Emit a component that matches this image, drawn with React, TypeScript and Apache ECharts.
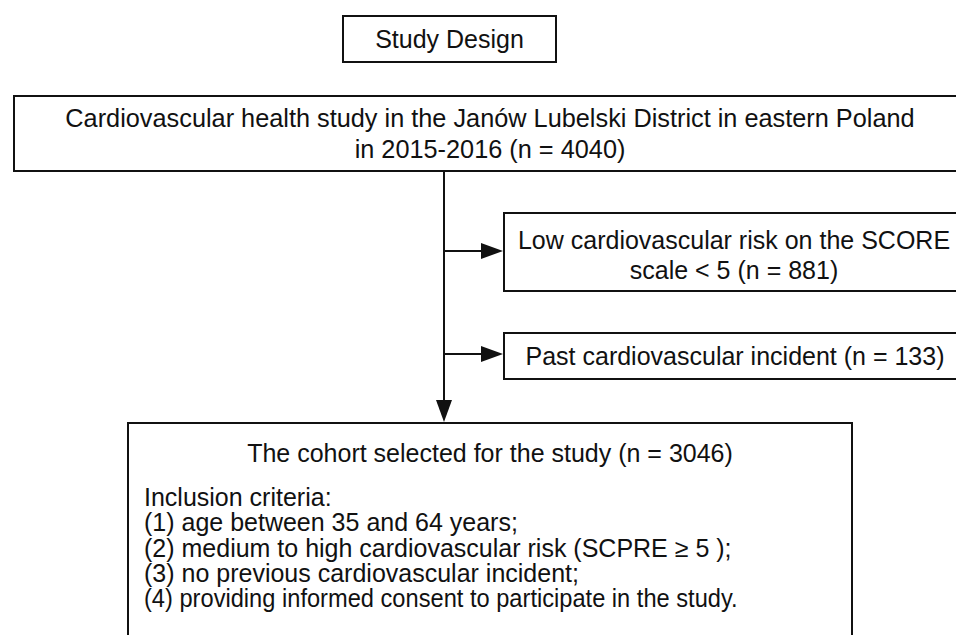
import React, { useEffect, useRef } from "react";
import * as echarts from "echarts";

const titleText = "Study Design";
const totalN = 4040;
const lowRiskN = 881;
const pastIncidentN = 133;
const cohortN = 3046;
const topLines = [
  "Cardiovascular health study in the Janów Lubelski District in eastern Poland",
  `in 2015-2016 (n = ${totalN})`,
];
const lowRiskLines = ["Low cardiovascular risk on the SCORE", `scale < 5 (n = ${lowRiskN})`];
const pastLines = [`Past cardiovascular incident (n = ${pastIncidentN})`];
const cohortTitle = `The cohort selected for the study (n = ${cohortN})`;
const criteriaLines = [
  "Inclusion criteria:",
  "(1) age between 35 and 64 years;",
  "(2) medium to high cardiovascular risk (SCPRE ≥ 5 );",
  "(3) no previous cardiovascular incident;",
  "(4) providing informed consent to participate in the study.",
];
const criteriaScaleX = [1, 1, 1, 1, 0.946];

const FAMILY = '"Liberation Sans", Arial, sans-serif';
const INK = "#111111";

function rect(x: number, y: number, w: number, h: number) {
  return {
    type: "rect",
    shape: { x, y, width: w, height: h },
    style: { fill: "#ffffff", stroke: INK, lineWidth: 2 },
  };
}

function text(t: string, x: number, y: number, align: string = "center", size = 25, scaleX = 1) {
  return {
    type: "text",
    x,
    y,
    scaleX,
    style: {
      text: t,
      font: `${size}px ${FAMILY}`,
      fill: INK,
      align,
      verticalAlign: "middle",
      textAlign: align,
      textVerticalAlign: "middle",
      lineHeight: 24,
    },
  };
}

function line(x1: number, y1: number, x2: number, y2: number) {
  return {
    type: "line",
    shape: { x1, y1, x2, y2 },
    style: { stroke: INK, lineWidth: 2 },
  };
}

function arrowRight(xTip: number, y: number) {
  return {
    type: "polygon",
    shape: { points: [[xTip, y], [xTip - 22, y - 8], [xTip - 22, y + 8]] },
    style: { fill: INK },
  };
}

function arrowDown(x: number, yTip: number) {
  return {
    type: "polygon",
    shape: { points: [[x, yTip], [x - 8, yTip - 22], [x + 8, yTip - 22]] },
    style: { fill: INK },
  };
}

export default function App() {
  const ref = useRef<HTMLDivElement>(null);
  useEffect(() => {
    if (!ref.current) return;
    const chart = echarts.init(ref.current, undefined, { renderer: "svg" });
    const elements: any[] = [];
    // title box
    elements.push(rect(343, 16, 213, 46));
    elements.push(text(titleText, 449.5, 39));
    // top box
    elements.push(rect(14, 96, 954, 75));
    topLines.forEach((t, i) => elements.push(text(t, 490, 118 + i * 31, "center", 25.3)));
    // connectors
    elements.push(line(444, 171, 444, 404));
    elements.push(arrowDown(444, 422));
    elements.push(line(444, 251, 484, 251));
    elements.push(arrowRight(503, 251));
    elements.push(line(444, 354, 484, 354));
    elements.push(arrowRight(503, 354));
    // low risk box
    elements.push(rect(504, 213, 462, 78));
    lowRiskLines.forEach((t, i) => elements.push(text(t, 734, 240 + i * 30)));
    // past incident box
    elements.push(rect(504, 333, 462, 46));
    pastLines.forEach((t, i) => elements.push(text(t, 735, 356 + i * 30)));
    // cohort box
    elements.push(rect(128, 423, 724, 240));
    elements.push(text(cohortTitle, 490, 453));
    criteriaLines.forEach((t, i) =>
      elements.push(text(t, 144, 497 + i * 25.4, "left", 25, criteriaScaleX[i]))
    );

    chart.setOption({
      animation: false,
      backgroundColor: "#ffffff",
      graphic: { elements },
    });
    return () => chart.dispose();
  }, []);
  return (
    <div
      ref={ref}
      style={{ position: "fixed", left: 0, top: 0, width: 956, height: 635, background: "#fff" }}
    />
  );
}
